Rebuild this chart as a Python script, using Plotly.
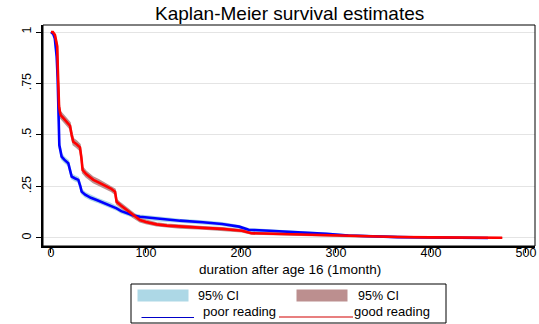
import plotly.graph_objects as go

# ---- data ----
poor_t = [0, 2.4, 4, 5, 6, 7, 7.7, 8.8, 10.2, 11.2, 14, 18.2, 20, 21.8, 25, 28.8, 31, 32.3, 36, 42,
          48.1, 55, 62.1, 69.1, 74, 79.7, 86, 93.7, 104, 114.7, 135.8, 160, 180, 198, 208, 230, 260,
          290, 313, 340, 365, 400, 430, 460]
poor_s = [1.0, 0.99, 0.97, 0.93, 0.88, 0.78, 0.67, 0.45, 0.419, 0.395, 0.38, 0.363, 0.33, 0.298, 0.29,
          0.282, 0.25, 0.225, 0.21, 0.195, 0.184, 0.172, 0.160, 0.144, 0.13, 0.120, 0.11, 0.103, 0.098,
          0.091, 0.084, 0.076, 0.068, 0.055, 0.040, 0.035, 0.028, 0.020, 0.012, 0.007, 0.004, 0.002,
          0.001, 0.0]
poor_ci_half = [0.0, 0.003, 0.005, 0.007, 0.009, 0.011, 0.012, 0.013, 0.013, 0.013, 0.012, 0.012, 0.012,
                0.011, 0.011, 0.011, 0.011, 0.010, 0.010, 0.010, 0.009, 0.009, 0.009, 0.008, 0.008,
                0.008, 0.007, 0.007, 0.007, 0.007, 0.006, 0.006, 0.006, 0.005, 0.005, 0.004, 0.004,
                0.003, 0.003, 0.002, 0.002, 0.001, 0.001, 0.0]

good_t = [0, 2, 4.2, 5.5, 6.6, 7.2, 7.7, 8.5, 9.5, 10.2, 14.7, 18, 20, 21.8, 23.5, 27, 30.5, 32, 33.3, 37,
          44.6, 50, 58.6, 63, 67.4, 68.5, 69.1, 73, 79.7, 86, 93.7, 100, 111.2, 122, 135.8, 160, 180,
          201, 211, 240, 270, 313, 340, 365, 400, 440, 475]
good_s = [1.0, 1.0, 0.985, 0.96, 0.93, 0.82, 0.686, 0.64, 0.61, 0.597, 0.573, 0.555, 0.545, 0.50, 0.467,
          0.455, 0.44, 0.39, 0.33, 0.31, 0.282, 0.27, 0.249, 0.24, 0.225, 0.2, 0.176, 0.16, 0.136,
          0.11, 0.087, 0.078, 0.066, 0.06, 0.055, 0.049, 0.044, 0.035, 0.023, 0.019, 0.015, 0.01,
          0.007, 0.005, 0.003, 0.002, 0.001]
good_ci_half = [0.0, 0.0, 0.004, 0.007, 0.009, 0.012, 0.014, 0.015, 0.015, 0.015, 0.015, 0.015, 0.015,
                0.015, 0.015, 0.015, 0.015, 0.014, 0.014, 0.014, 0.013, 0.013, 0.012, 0.012, 0.012,
                0.011, 0.011, 0.010, 0.010, 0.009, 0.008, 0.008, 0.007, 0.007, 0.007, 0.006, 0.006,
                0.005, 0.004, 0.004, 0.003, 0.003, 0.002, 0.002, 0.001, 0.001, 0.0]

x_ticks = [0, 100, 200, 300, 400, 500]
y_ticks = [0, 0.25, 0.5, 0.75, 1]
y_tick_labels = ["0", ".25", ".5", ".75", "1"]

BLUE = "rgb(0,0,255)"
RED = "rgb(255,0,0)"
BAND_BLUE = "rgb(173,216,230)"
BAND_RED = "rgb(188,143,143)"
FONT = "Liberation Sans, Arial, Helvetica, sans-serif"

W, H = 539, 324
L, R, T, B = 43, 535, 25, 246


def px(x):
    return (x - L) / (R - L)


def py(y):
    return (B - y) / (B - T)


fig = go.Figure()


def add_band(t, s, h, color):
    lo = [max(a - b, 0) for a, b in zip(s, h)]
    hi = [a + b for a, b in zip(s, h)]
    fig.add_trace(go.Scatter(x=t, y=lo, mode="lines", line=dict(color=color, width=1.5),
                             hoverinfo="skip", showlegend=False))
    fig.add_trace(go.Scatter(x=t, y=hi, mode="lines", line=dict(color=color, width=1.5),
                             fill="tonexty", fillcolor=color, hoverinfo="skip", showlegend=False))


add_band(poor_t, poor_s, poor_ci_half, BAND_BLUE)
add_band(good_t, good_s, good_ci_half, BAND_RED)
fig.add_trace(go.Scatter(x=poor_t, y=poor_s, mode="lines", line=dict(color=BLUE, width=2.6),
                         name="poor reading", showlegend=False))
fig.add_trace(go.Scatter(x=good_t, y=good_s, mode="lines", line=dict(color=RED, width=2.6),
                         name="good reading", showlegend=False))

shapes = [
    dict(type="rect", xref="paper", yref="paper", x0=0, x1=1, y0=0, y1=1,
         line=dict(color="black", width=1), layer="above"),
    # legend box
    dict(type="rect", xref="paper", yref="paper", x0=px(131), x1=px(446), y0=py(284), y1=py(323),
         line=dict(color="black", width=1), fillcolor="white"),
    dict(type="rect", xref="paper", yref="paper", x0=px(137.5), x1=px(188.5), y0=py(289.5), y1=py(301.5),
         line=dict(width=0), fillcolor=BAND_BLUE),
    dict(type="rect", xref="paper", yref="paper", x0=px(296.5), x1=px(347.5), y0=py(289.5), y1=py(301.5),
         line=dict(width=0), fillcolor=BAND_RED),
    dict(type="line", xref="paper", yref="paper", x0=px(141.5), x1=px(194), y0=py(317.5), y1=py(317.5),
         line=dict(color="rgb(0,0,200)", width=1.2)),
    dict(type="line", xref="paper", yref="paper", x0=px(279), x1=px(353), y0=py(317), y1=py(317),
         line=dict(color="rgb(210,0,0)", width=1.2)),
]

ann = [
    dict(text="Kaplan-Meier survival estimates", xref="paper", yref="paper", x=0.5, y=py(13.5),
         xanchor="center", yanchor="middle", showarrow=False, font=dict(size=19, color="black", family=FONT)),
    dict(text="duration after age 16 (1month)", xref="paper", yref="paper", x=px(289.5), y=py(269),
         xanchor="center", yanchor="middle", showarrow=False, font=dict(size=13.5, color="black", family=FONT)),
    dict(text="95% CI", xref="paper", yref="paper", x=px(197), y=py(295.5),
         xanchor="left", yanchor="middle", showarrow=False, font=dict(size=12.5, color="black", family=FONT)),
    dict(text="95% CI", xref="paper", yref="paper", x=px(356.5), y=py(295.5),
         xanchor="left", yanchor="middle", showarrow=False, font=dict(size=12.5, color="black", family=FONT)),
    dict(text="poor reading", xref="paper", yref="paper", x=px(201.5), y=py(311.5),
         xanchor="left", yanchor="middle", showarrow=False, font=dict(size=13, color="black", family=FONT)),
    dict(text="good reading", xref="paper", yref="paper", x=px(352.5), y=py(311.5),
         xanchor="left", yanchor="middle", showarrow=False, font=dict(size=13, color="black", family=FONT)),
]
for a in ann:
    a["borderpad"] = 0

fig.update_layout(
    width=W, height=H,
    margin=dict(l=L, r=W - R, t=T, b=H - B, pad=0),
    paper_bgcolor="white", plot_bgcolor="white",
    font=dict(family=FONT, color="black"),
    shapes=shapes, annotations=ann, showlegend=False,
    xaxis=dict(range=[-8.4, 509.5], tickvals=x_ticks, ticks="outside", ticklen=5, tickwidth=1,
               tickcolor="black", showgrid=False, zeroline=False, showline=True, linewidth=2,
               linecolor="black", tickfont=dict(size=12.5, color="black"), fixedrange=True,
               ticklabelstandoff=-11),
    yaxis=dict(range=[-0.039, 1.034], tickvals=y_ticks, ticktext=y_tick_labels, tickangle=-90,
               ticks="outside", ticklen=5, tickwidth=1, tickcolor="black", showgrid=True,
               gridcolor="rgb(228,228,228)", gridwidth=1, zeroline=False, showline=True, linewidth=2,
               linecolor="black", tickfont=dict(size=12.5, color="black"), fixedrange=True),
)

fig.write_html("out.html")
